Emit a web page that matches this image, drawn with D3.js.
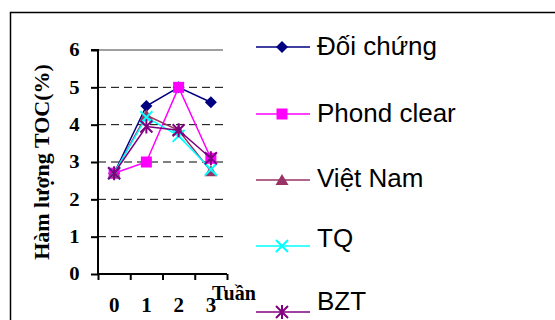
<!DOCTYPE html>
<html>
<head>
<meta charset="utf-8">
<script src="https://cdn.jsdelivr.net/npm/d3@7"></script>
<style>
  html, body { margin: 0; padding: 0; background: #fff; }
  svg { display: block; }
</style>
</head>
<body>
<svg id="chart" width="555" height="320"></svg>
<script>
// Weeks and TOC content (%) per treatment
const weeks = ["0", "1", "2", "3"];
const yTicks = [0, 1, 2, 3, 4, 5, 6];
const seriesNames = ["Đối chứng", "Phond clear", "Việt Nam", "TQ", "BZT"];
const doiChung   = [2.7, 4.5, 5.0, 4.6];
const phondClear = [2.7, 3.0, 5.0, 3.1];
const vietNam    = [2.7, 4.25, 3.85, 2.75];
const tq         = [2.7, 4.2, 3.7, 2.8];
const bzt        = [2.7, 3.95, 3.85, 3.1];

const series = [
  { name: seriesNames[0], values: doiChung,   color: "#000080", marker: "diamond" },
  { name: seriesNames[1], values: phondClear, color: "#ff00ff", marker: "square" },
  { name: seriesNames[2], values: vietNam,    color: "#993366", marker: "triangle" },
  { name: seriesNames[3], values: tq,         color: "#00ffff", marker: "cross" },
  { name: seriesNames[4], values: bzt,        color: "#800080", marker: "star" }
];

const svg = d3.select("#chart");

// outer frame
svg.append("rect")
  .attr("x", 10.5).attr("y", 12.5)
  .attr("width", 700).attr("height", 500)
  .attr("fill", "none").attr("stroke", "#000").attr("stroke-width", 1.5);

const plot = { left: 98, right: 227, top: 50, bottom: 274 };

// category slots: ticks on slot boundaries, points at slot centres
const xSlot = d3.scaleLinear().domain([0, weeks.length]).range([plot.left, plot.right]);
const xPos = i => xSlot(i + 0.5);
const y = d3.scaleLinear().domain([0, 6]).range([plot.bottom, plot.top]);

const serif = "'Liberation Serif', 'Times New Roman', serif";
const sans = "'Liberation Sans', Arial, sans-serif";

// gridlines
const gridRight = 223;
svg.append("g").selectAll("line")
  .data(yTicks.filter(v => v > 0))
  .join("line")
  .attr("x1", plot.left).attr("x2", gridRight)
  .attr("y1", d => y(d)).attr("y2", d => y(d))
  .attr("stroke", d => d === 6 ? "#808080" : "#000")
  .attr("stroke-width", d => d === 6 ? 1.5 : 1)
  .attr("stroke-dasharray", d => d === 6 ? null : "8,5");

// y axis
const yAxis = svg.append("g")
  .attr("transform", `translate(${plot.left},0)`)
  .call(d3.axisLeft(y).tickValues(yTicks).tickFormat(d3.format("d")).tickSize(7).tickPadding(9));
yAxis.select(".domain").attr("stroke-width", 2).attr("d", `M-7,${plot.top}H0V${plot.bottom}`);
yAxis.selectAll(".tick line").attr("stroke-width", 2);
yAxis.selectAll(".tick text")
  .attr("font-family", serif).attr("font-weight", "bold").attr("font-size", 18).attr("fill", "#000")
  .attr("transform", "scale(1.15,1)");

// x axis
const xAxis = svg.append("g")
  .attr("transform", `translate(0,${plot.bottom})`)
  .call(d3.axisBottom(xSlot).tickValues(d3.range(weeks.length + 1)).tickFormat("").tickSize(6));
xAxis.select(".domain").attr("stroke-width", 2).attr("d", `M${plot.left},0H${plot.right}`);
xAxis.selectAll(".tick line").attr("stroke-width", 2);

svg.append("g").selectAll("text")
  .data(weeks)
  .join("text")
  .attr("x", (d, i) => xPos(i))
  .attr("y", 312)
  .attr("text-anchor", "middle")
  .attr("font-family", serif).attr("font-weight", "bold").attr("font-size", 21)
  .text(d => d);

svg.append("text")
  .attr("x", 212).attr("y", 300)
  .attr("font-family", serif).attr("font-weight", "bold").attr("font-size", 20)
  .text("Tuần");

// y title
svg.append("text")
  .attr("transform", "translate(49,162) rotate(-90)")
  .attr("text-anchor", "middle")
  .attr("font-family", serif).attr("font-weight", "bold").attr("font-size", 22)
  .text("Hàm lượng TOC(%)");

// marker drawing
function drawMarker(g, type, color, cx, cy) {
  if (type === "diamond") {
    g.append("path").attr("d", `M${cx},${cy - 6}L${cx + 6},${cy}L${cx},${cy + 6}L${cx - 6},${cy}Z`)
      .attr("fill", color);
  } else if (type === "square") {
    g.append("rect").attr("x", cx - 5.5).attr("y", cy - 5.5).attr("width", 11).attr("height", 11)
      .attr("fill", color);
  } else if (type === "triangle") {
    g.append("path").attr("d", `M${cx},${cy - 6}L${cx + 6.5},${cy + 5}L${cx - 6.5},${cy + 5}Z`)
      .attr("fill", color);
  } else if (type === "cross") {
    g.append("path").attr("d", `M${cx - 6},${cy - 6}L${cx + 6},${cy + 6}M${cx + 6},${cy - 6}L${cx - 6},${cy + 6}`)
      .attr("stroke", color).attr("stroke-width", 2).attr("fill", "none");
  } else if (type === "star") {
    g.append("path").attr("d", `M${cx - 6},${cy - 6}L${cx + 6},${cy + 6}M${cx + 6},${cy - 6}L${cx - 6},${cy + 6}M${cx},${cy - 7}V${cy + 7}`)
      .attr("stroke", color).attr("stroke-width", 2).attr("fill", "none");
  }
}

// series lines and markers
const line = d3.line().x((d, i) => xPos(i)).y(d => y(d));
series.forEach(s => {
  const g = svg.append("g");
  g.append("path").datum(s.values)
    .attr("d", line)
    .attr("fill", "none").attr("stroke", s.color).attr("stroke-width", 1.5);
  s.values.forEach((v, i) => drawMarker(g, s.marker, s.color, xPos(i), y(v)));
});

// legend: swatch rows and their text baselines
const legendRows = [47, 114, 180, 246, 312];
const legendBaselines = [55, 122, 187, 247, 310];
series.forEach((s, i) => {
  const g = svg.append("g");
  const ly = legendRows[i];
  g.append("line").attr("x1", 256).attr("x2", 310).attr("y1", ly).attr("y2", ly)
    .attr("stroke", s.color).attr("stroke-width", 1.5);
  drawMarker(g, s.marker, s.color, 282, ly);
  g.append("text")
    .attr("x", 317).attr("y", legendBaselines[i])
    .attr("font-family", sans).attr("font-size", 26)
    .text(s.name);
});
</script>
</body>
</html>
